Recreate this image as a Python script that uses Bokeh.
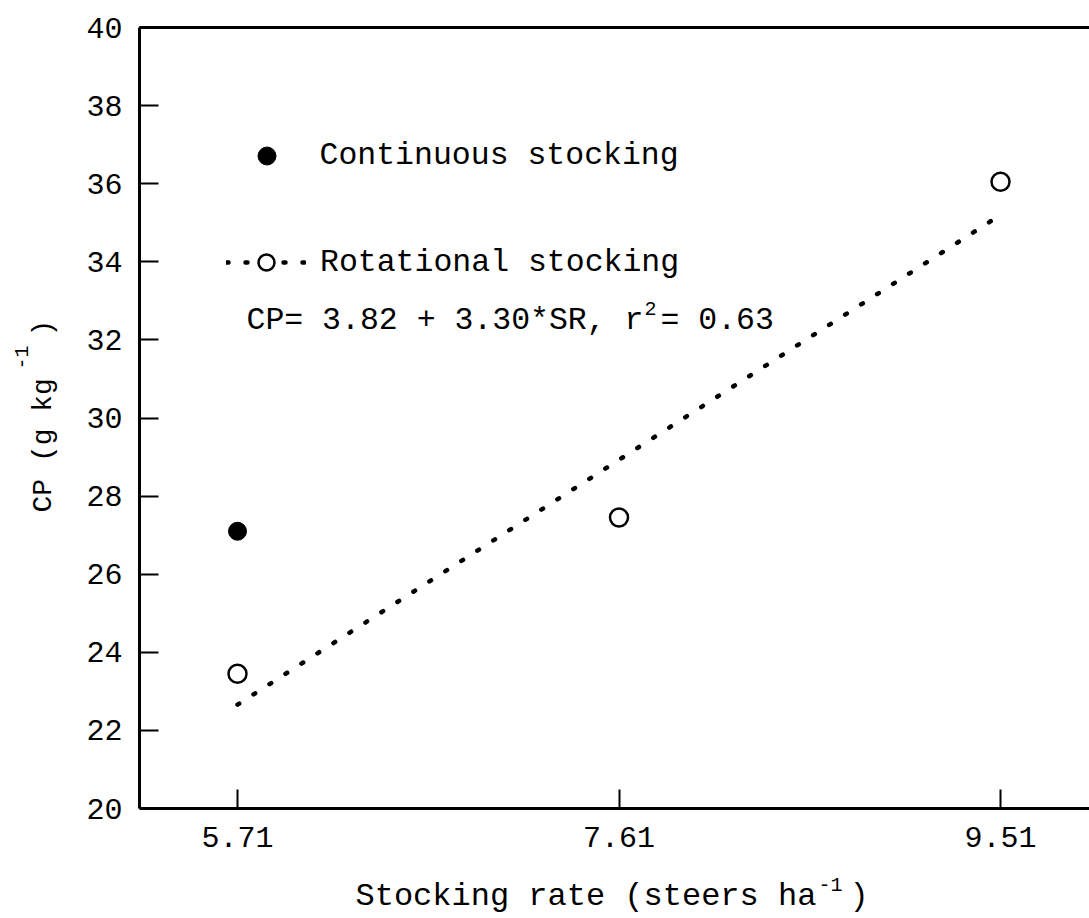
from math import pi
from bokeh.plotting import figure
from bokeh.layouts import column, row
from bokeh.models import LinearAxis, FixedTicker, Label, Legend, LegendItem, Range1d
from bokeh.embed import file_html
from bokeh.resources import INLINE

# ---- data ----
x_ticks = [5.71, 7.61, 9.51]
y_ticks = [20, 22, 24, 26, 28, 30, 32, 34, 36, 38, 40]

sr_cont = [5.71]
cp_cont = [27.1]

sr_rot = [5.71, 7.61, 9.51]
cp_rot = [23.45, 27.45, 36.05]

# regression CP = 3.82 + 3.30*SR, drawn between the extreme stocking rates
fit_sr = [5.71, 9.51]
fit_cp = [22.66, 35.20]

FONT = "Liberation Mono"
YLAB_W = 70
MAIN_H = 868
TOTAL_W, TOTAL_H = 1089, 918
FRAME_BOTTOM = 808   # canvas y of the plot frame's bottom edge

p = figure(width=TOTAL_W - YLAB_W, height=MAIN_H,
           x_range=Range1d(5.2219, 9.9532), y_range=Range1d(20, 40),
           output_backend="svg", toolbar_location=None,
           min_border_left=139 - YLAB_W, min_border_right=0,
           min_border_top=27, min_border_bottom=MAIN_H - FRAME_BOTTOM)
p.outline_line_color = None
p.xgrid.visible = False
p.ygrid.visible = False
p.background_fill_color = "white"
p.border_fill_color = "white"

for ax, ticks in ((p.xaxis, x_ticks), (p.yaxis, y_ticks)):
    ax.ticker = FixedTicker(ticks=ticks, minor_ticks=[])
    ax.major_tick_in = 19
    ax.major_tick_out = 0
    ax.minor_tick_line_color = None
    ax.axis_line_width = 3
    ax.axis_line_color = "black"
    ax.major_tick_line_width = 2
    ax.major_tick_line_color = "black"
    ax.major_label_text_font = FONT
    ax.major_label_text_font_size = "30px"
    ax.major_label_text_color = "black"
p.xaxis.major_label_standoff = 18
p.yaxis.major_label_standoff = 17

top = LinearAxis(ticker=FixedTicker(ticks=[]), axis_line_width=3,
                 axis_line_color="black", major_tick_line_color=None,
                 minor_tick_line_color=None, major_label_text_font_size="0px",
                 major_tick_out=0, major_label_standoff=0)
p.add_layout(top, "above")

r_fit = p.line(fit_sr, fit_cp, line_color="black", line_width=4.5,
               line_dash="2 17", line_cap="round")
r_cont = p.scatter(sr_cont, cp_cont, marker="circle", size=18,
                   fill_color="black", line_color="black")
r_rot = p.scatter(sr_rot, cp_rot, marker="circle", size=18,
                  fill_color="white", line_color="black", line_width=2.5)

leg_common = dict(padding=0, margin=0, border_line_color=None,
                  background_fill_alpha=0, label_text_font=FONT,
                  label_text_font_size="31.5px", label_text_color="black",
                  spacing=0)
leg1 = Legend(items=[LegendItem(label="Continuous stocking", renderers=[r_cont])],
              location=(104.5, 630.5), glyph_width=45, glyph_height=45,
              label_standoff=31, **leg_common)
leg2 = Legend(items=[LegendItem(label="Rotational stocking", renderers=[r_fit, r_rot])],
              location=(87, 526), glyph_width=80, glyph_height=40,
              label_standoff=14, **leg_common)
p.add_layout(leg1)
p.add_layout(leg2)


def lab(fig, x, y, text, size, angle=0):
    fig.add_layout(Label(x=x, y=y, x_units="screen", y_units="screen", text=text,
                         text_font=FONT, text_font_size=size, text_color="black",
                         text_align="left", text_baseline="alphabetic", angle=angle))


# equation (inside the plot frame)
lab(p, 107, 488, "CP= 3.82 + 3.30*SR, r", "31.5px")
lab(p, 505, 500, "2", "20px")
lab(p, 521, 488, "= 0.63", "31.5px")


def blank(w, h):
    f = figure(width=w, height=h, x_range=Range1d(0, 1), y_range=Range1d(0, 1),
               x_axis_type=None, y_axis_type=None, toolbar_location=None,
               output_backend="svg", min_border=0)
    f.outline_line_color = None
    f.background_fill_color = "white"
    f.border_fill_color = "white"
    return f


# y axis title (rotated), in its own strip left of the plot
# (its frame is aligned with the main plot frame, so y is measured from FRAME_BOTTOM)
ylab = blank(YLAB_W, MAIN_H)
lab(ylab, 43, FRAME_BOTTOM - 512, "CP (g kg", "28px", pi / 2)
lab(ylab, 21, FRAME_BOTTOM - 369, "-1", "20px", pi / 2)
lab(ylab, 43, FRAME_BOTTOM - 336, ")", "28px", pi / 2)

# x axis title, in its own strip below the plot
XLAB_H = TOTAL_H - MAIN_H
xlab = blank(TOTAL_W, XLAB_H)
lab(xlab, 355, TOTAL_H - 896, "Stocking rate (steers ha", "32px")
lab(xlab, 818, TOTAL_H - 884, "-1", "20px")
lab(xlab, 849, TOTAL_H - 896, ")", "32px")

layout = column(row(ylab, p, spacing=0), xlab, spacing=0)

open("out.html", "w").write(file_html(layout, INLINE))
